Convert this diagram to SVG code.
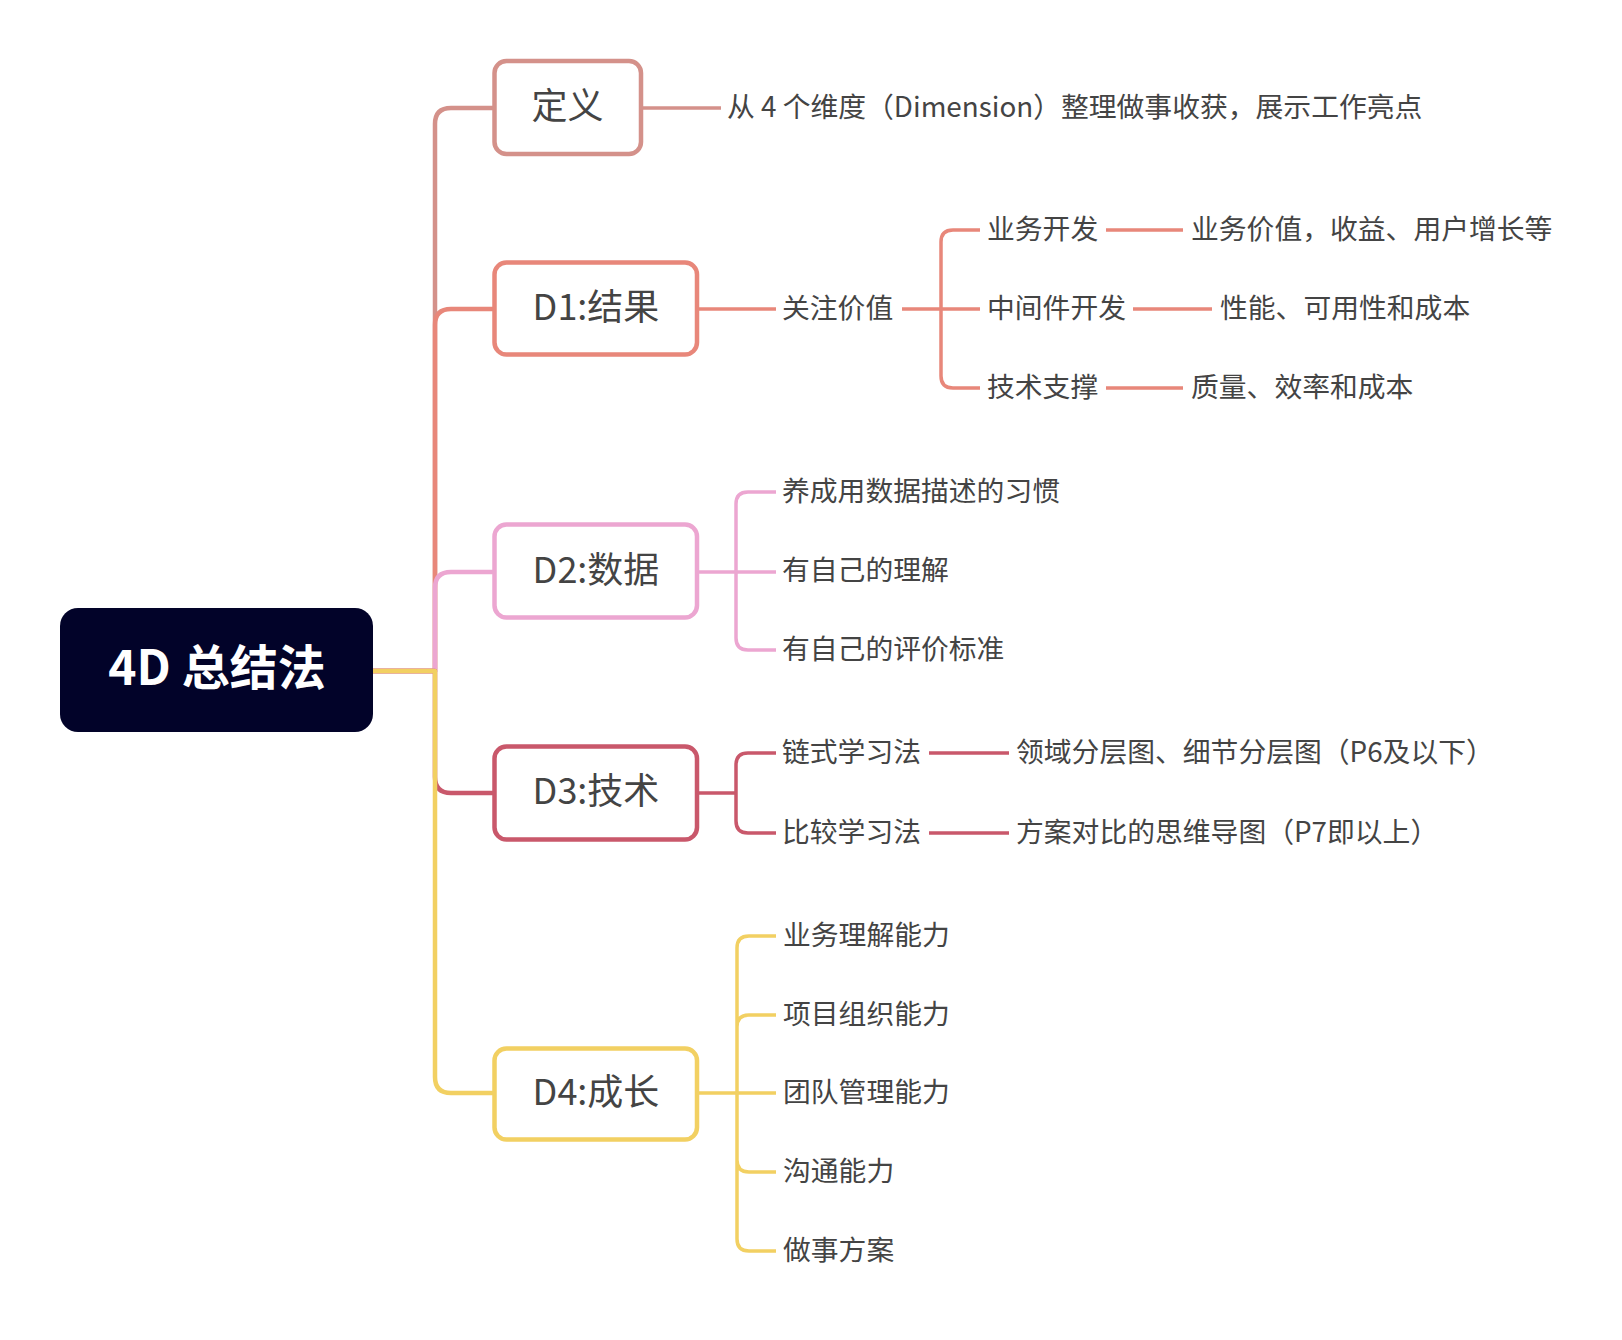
<svg xmlns="http://www.w3.org/2000/svg" width="1622" height="1340" viewBox="0 0 1622 1340">
<style>
text{font-family:"Noto Sans CJK SC","Noto Sans",sans-serif;fill:#444;dominant-baseline:central}
.box{fill:#fff;stroke-width:4.5}
.bl{font-size:36px;text-anchor:middle}
.lb{font-size:27.8px}
.main{fill:none;stroke-width:4.5;stroke-linejoin:round}
.sub{fill:none;stroke-width:3.5;stroke-linejoin:round}
.c0{stroke:#d4918a}.c1{stroke:#e8877a}.c2{stroke:#eca6d1}.c3{stroke:#c9586b}.c4{stroke:#f2d062}
</style>
<rect width="1622" height="1340" fill="#fff"/>
<g id="connectors">
<path class="main c0" d="M373,671 H435 V124 Q435,108 451,108 H494"/>
<path class="main c1" d="M373,671 H435 V325 Q435,309 451,309 H494"/>
<path class="main c2" d="M373,671 H435 V588 Q435,572 451,572 H494"/>
<path class="main c3" d="M373,671 H435 V777 Q435,793 451,793 H494"/>
<path class="main c4" d="M373,671 H435 V1077 Q435,1093 451,1093 H494"/>
<path class="sub c0" d="M643,108 H721"/>
<path class="sub c1" d="M699,309 H776"/>
<path class="sub c1" d="M902,309 H941 V242 Q941,230 953,230 H980 M902,309 H980 M902,309 H941 V376 Q941,388 953,388 H980"/>
<path class="sub c1" d="M1106,230 H1183 M1133,309 H1212 M1106,388 H1183"/>
<path class="sub c2" d="M699,572 H736 V504 Q736,492 748,492 H776 M699,572 H776 M699,572 H736 V638 Q736,650 748,650 H776"/>
<path class="sub c3" d="M699,793 H736 V765 Q736,753 748,753 H776 M699,793 H736 V821 Q736,833 748,833 H776"/>
<path class="sub c3" d="M929,753 H1009 M929,833 H1009"/>
<path class="sub c4" d="M699,1093 H737 V948 Q737,936 749,936 H776 M737,1093 V1027 Q737,1015 749,1015 H776 M699,1093 H776 M737,1093 V1160 Q737,1172 749,1172 H776 M737,1093 V1239 Q737,1251 749,1251 H776"/>
</g>
<g id="root">
<rect x="60" y="608" width="313" height="124" rx="18" fill="#020329"/>
<text x="217" y="664" style="font-size:48px;font-weight:bold;fill:#fff;text-anchor:middle">4D 总结法</text>
</g>
<g id="def">
<rect class="box c0" x="494.5" y="61" width="146.5" height="93" rx="12"/>
<text class="bl" x="567.5" y="103">定义</text>
<text class="lb" x="727" y="105">从 4 个维度（Dimension）整理做事收获，展示工作亮点</text>
</g>
<g id="d1">
<rect class="box c1" x="494.5" y="262.5" width="202.5" height="92" rx="12"/>
<text class="bl" x="596" y="304">D1:结果</text>
<text class="lb" x="782" y="306">关注价值</text>
<text class="lb" x="987" y="227">业务开发</text>
<text class="lb" x="987" y="306">中间件开发</text>
<text class="lb" x="987" y="385">技术支撑</text>
<text class="lb" x="1191" y="227">业务价值，收益、用户增长等</text>
<text class="lb" x="1220" y="306">性能、可用性和成本</text>
<text class="lb" x="1191" y="385">质量、效率和成本</text>
</g>
<g id="d2">
<rect class="box c2" x="494.5" y="524.5" width="202.5" height="93" rx="12"/>
<text class="bl" x="596" y="567">D2:数据</text>
<text class="lb" x="782" y="489">养成用数据描述的习惯</text>
<text class="lb" x="782" y="568">有自己的理解</text>
<text class="lb" x="782" y="647">有自己的评价标准</text>
</g>
<g id="d3">
<rect class="box c3" x="494.5" y="746.5" width="202.5" height="93" rx="12"/>
<text class="bl" x="596" y="788">D3:技术</text>
<text class="lb" x="782" y="750">链式学习法</text>
<text class="lb" x="782" y="830">比较学习法</text>
<text class="lb" x="1016" y="750">领域分层图、细节分层图（P6及以下）</text>
<text class="lb" x="1016" y="830">方案对比的思维导图（P7即以上）</text>
</g>
<g id="d4">
<rect class="box c4" x="494.5" y="1048.5" width="202.5" height="91" rx="12"/>
<text class="bl" x="596" y="1089">D4:成长</text>
<text class="lb" x="783" y="933">业务理解能力</text>
<text class="lb" x="783" y="1012">项目组织能力</text>
<text class="lb" x="783" y="1090">团队管理能力</text>
<text class="lb" x="783" y="1169">沟通能力</text>
<text class="lb" x="783" y="1248">做事方案</text>
</g>
</svg>
